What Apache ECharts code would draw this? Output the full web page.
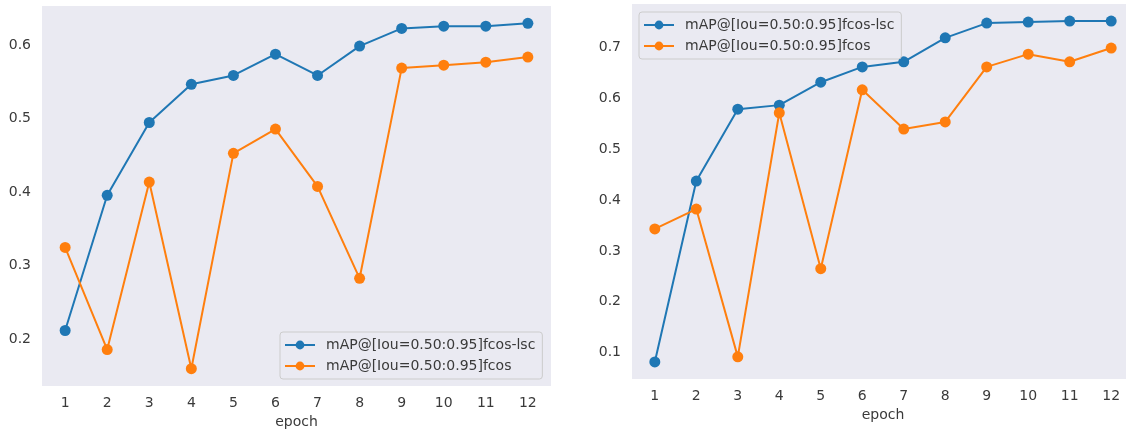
<!DOCTYPE html>
<html><head><meta charset="utf-8">
<script src="https://cdn.jsdelivr.net/npm/echarts@6/dist/echarts.min.js"></script>
<style>html,body{margin:0;padding:0;background:#fff}#c{width:1126px;height:435px}</style>
</head><body><div id="c"></div>
<script>
const epochs = [1,2,3,4,5,6,7,8,9,10,11,12];
const seriesNames = ['mAP@[Iou=0.50:0.95]fcos-lsc', 'mAP@[Iou=0.50:0.95]fcos'];
const leftLsc  = [0.212,0.396,0.495,0.547,0.559,0.588,0.559,0.599,0.623,0.626,0.626,0.630];
const leftFcos = [0.325,0.186,0.414,0.160,0.453,0.486,0.408,0.283,0.569,0.573,0.577,0.584];
const rightLsc  = [0.082,0.437,0.578,0.586,0.631,0.661,0.671,0.718,0.747,0.749,0.751,0.751];
const rightFcos = [0.343,0.382,0.092,0.571,0.265,0.616,0.539,0.553,0.661,0.686,0.671,0.698];
const leftYTicks = [0.2,0.3,0.4,0.5,0.6];
const rightYTicks = [0.1,0.2,0.3,0.4,0.5,0.6,0.7];
const colors = ['#1f77b4','#ff7f0e'];

function pad(arrs){ let mn=Infinity,mx=-Infinity; arrs.forEach(a=>a.forEach(v=>{mn=Math.min(mn,v);mx=Math.max(mx,v);})); const m=(mx-mn)*0.05; return [mn-m,mx+m]; }
const lr = pad([leftLsc,leftFcos]), rr = pad([rightLsc,rightFcos]);
const xm = (epochs[epochs.length-1]-epochs[0])*0.05;
const font = 'DejaVu Sans';
const txt = '#3a3a3a';

function xAxis(gi){ return {type:'value', gridIndex:gi, min:epochs[0]-xm, max:epochs[epochs.length-1]+xm,
  axisLine:{show:false}, axisTick:{show:false}, splitLine:{show:false},
  axisLabel:{customValues:epochs, color:txt, fontFamily:font, fontSize:14, margin:10},
  name:'epoch', nameLocation:'middle', nameGap:29, nameTextStyle:{color:txt, fontFamily:font, fontSize:14}}; }
function yAxis(gi, r, ticks){ return {type:'value', gridIndex:gi, min:r[0], max:r[1],
  axisLine:{show:false}, axisTick:{show:false}, splitLine:{show:false},
  axisLabel:{customValues:ticks, formatter:v=>v.toFixed(1), color:txt, fontFamily:font, fontSize:14, margin:11}}; }
function line(name, data, gi, ci){ return {type:'line', name, xAxisIndex:gi, yAxisIndex:gi,
  data: epochs.map((e,i)=>[e,data[i]]), symbol:'circle', symbolSize:11,
  lineStyle:{width:2, color:colors[ci]}, itemStyle:{color:colors[ci]}, animation:false}; }
const legendBase = {data:seriesNames, orient:'vertical', itemWidth:30, itemHeight:11, itemGap:7,
  backgroundColor:'rgba(234,234,242,0.85)', borderColor:'#cccccc', borderWidth:1, borderRadius:3,
  padding:[6,7,6,4], textStyle:{color:txt, fontFamily:font, fontSize:14, padding:[0,0,0,6]}, selectedMode:false};

const chart = echarts.init(document.getElementById('c'), null, {renderer:'canvas'});
chart.setOption({
  backgroundColor:'#fff',
  grid:[
    {left:42, top:6, width:509, height:380, show:true, backgroundColor:'#eaeaf2', borderWidth:0, outerBoundsMode:'none'},
    {left:632, top:4, width:502, height:375, show:true, backgroundColor:'#eaeaf2', borderWidth:0, outerBoundsMode:'none'}
  ],
  xAxis:[xAxis(0), xAxis(1)],
  yAxis:[yAxis(0, lr, leftYTicks), yAxis(1, rr, rightYTicks)],
  legend:[
    Object.assign({}, legendBase, {left:280, top:332}),
    Object.assign({}, legendBase, {left:639, top:12})
  ],
  series:[
    line(seriesNames[0], leftLsc, 0, 0), line(seriesNames[1], leftFcos, 0, 1),
    line(seriesNames[0], rightLsc, 1, 0), line(seriesNames[1], rightFcos, 1, 1)
  ]
});
</script></body></html>
